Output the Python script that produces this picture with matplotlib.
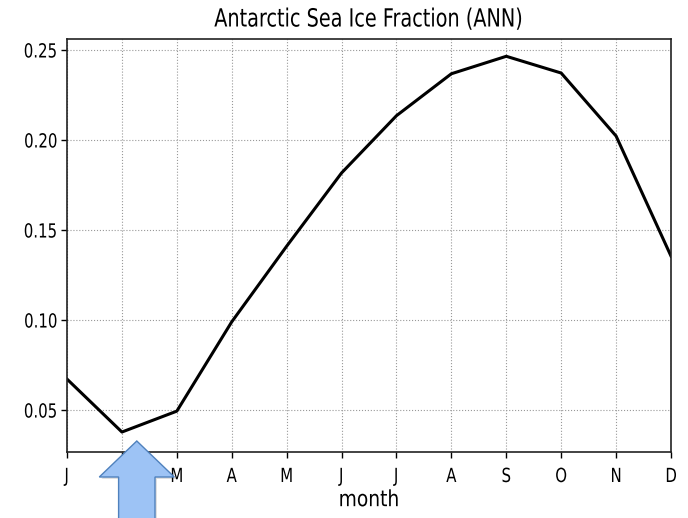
import matplotlib
matplotlib.use("Agg")
import matplotlib.pyplot as plt
from matplotlib.patches import Polygon
from matplotlib.patheffects import AbstractPathEffect
from matplotlib.transforms import Affine2D

plt.rcParams['font.family'] = ['DejaVu Sans']

months = ["J", "F", "M", "A", "M", "J", "J", "A", "S", "O", "N", "D"]
ice_fraction = [0.0672, 0.0378, 0.0494, 0.0990, 0.1410, 0.1817, 0.2135,
                0.2368, 0.2465, 0.2372, 0.2022, 0.1355]
yticks = [0.05, 0.10, 0.15, 0.20, 0.25]


class Narrow(AbstractPathEffect):
    """Draw text horizontally compressed about an anchor point."""

    def __init__(self, sx, anchor="center"):
        super().__init__()
        self.sx = sx
        self.anchor = anchor

    def draw_path(self, renderer, gc, tpath, affine, rgbFace=None):
        ext = tpath.get_extents()
        if self.anchor == "right":
            x0 = ext.x1
        elif self.anchor == "left":
            x0 = ext.x0
        else:
            x0 = 0.5 * (ext.x0 + ext.x1)
        squash = Affine2D().translate(-x0, 0).scale(self.sx, 1).translate(x0, 0)
        renderer.draw_path(gc, tpath, squash + affine, rgbFace)


fig = plt.figure(figsize=(6.88, 5.18), dpi=100)
ax = fig.add_axes([0.0974, 0.1274, 0.8779, 0.7973])

x = list(range(len(months)))
ax.plot(x, ice_fraction, color="black", linewidth=2.2)

ax.set_xlim(0, len(months) - 1)
ax.set_ylim(0.0267, 0.2561)
ax.set_xticks(x)
ax.set_xticklabels(months)
ax.set_yticks(yticks)
ax.set_yticklabels([f"{v:.2f}" for v in yticks])
ax.tick_params(axis="x", direction="out", length=4.3, width=1, labelsize=14, pad=6.5)
ax.tick_params(axis="y", direction="out", length=4.3, width=1, labelsize=14, pad=2.5)
ax.grid(True, linestyle=":", color="#999999", linewidth=0.8)
for s in ax.spines.values():
    s.set_linewidth(1.2)
    s.set_color("#222222")

for lbl in ax.get_xticklabels():
    lbl.set_path_effects([Narrow(0.77, "center")])
for lbl in ax.get_yticklabels():
    lbl.set_path_effects([Narrow(0.77, "right")])

title = ax.set_title("Antarctic Sea Ice Fraction (ANN)", fontsize=18, pad=9)
title.set_path_effects([Narrow(0.77, "center")])
xlab = ax.set_xlabel("month", fontsize=16, labelpad=3)
xlab.set_path_effects([Narrow(0.84, "center")])

# Block arrow pointing up at February
W, H = 688.0, 518.0
cx = 136.8
pts_px = [(cx, 441), (174.3, 477), (155, 477), (155, 520), (118.6, 520),
          (118.6, 477), (99.3, 477)]
shadow = Polygon([((px + 2) / W, 1 - (py + 2) / H) for px, py in pts_px],
                 closed=True, transform=fig.transFigure, facecolor="#000000",
                 alpha=0.12, edgecolor="none", clip_on=False, zorder=9)
arrow = Polygon([(px / W, 1 - py / H) for px, py in pts_px], closed=True,
                transform=fig.transFigure, facecolor="#9DC3F5",
                edgecolor="#4F81BD", linewidth=1.0, clip_on=False, zorder=10)
fig.patches.append(shadow)
fig.patches.append(arrow)

fig.savefig("out.png", dpi=100)
